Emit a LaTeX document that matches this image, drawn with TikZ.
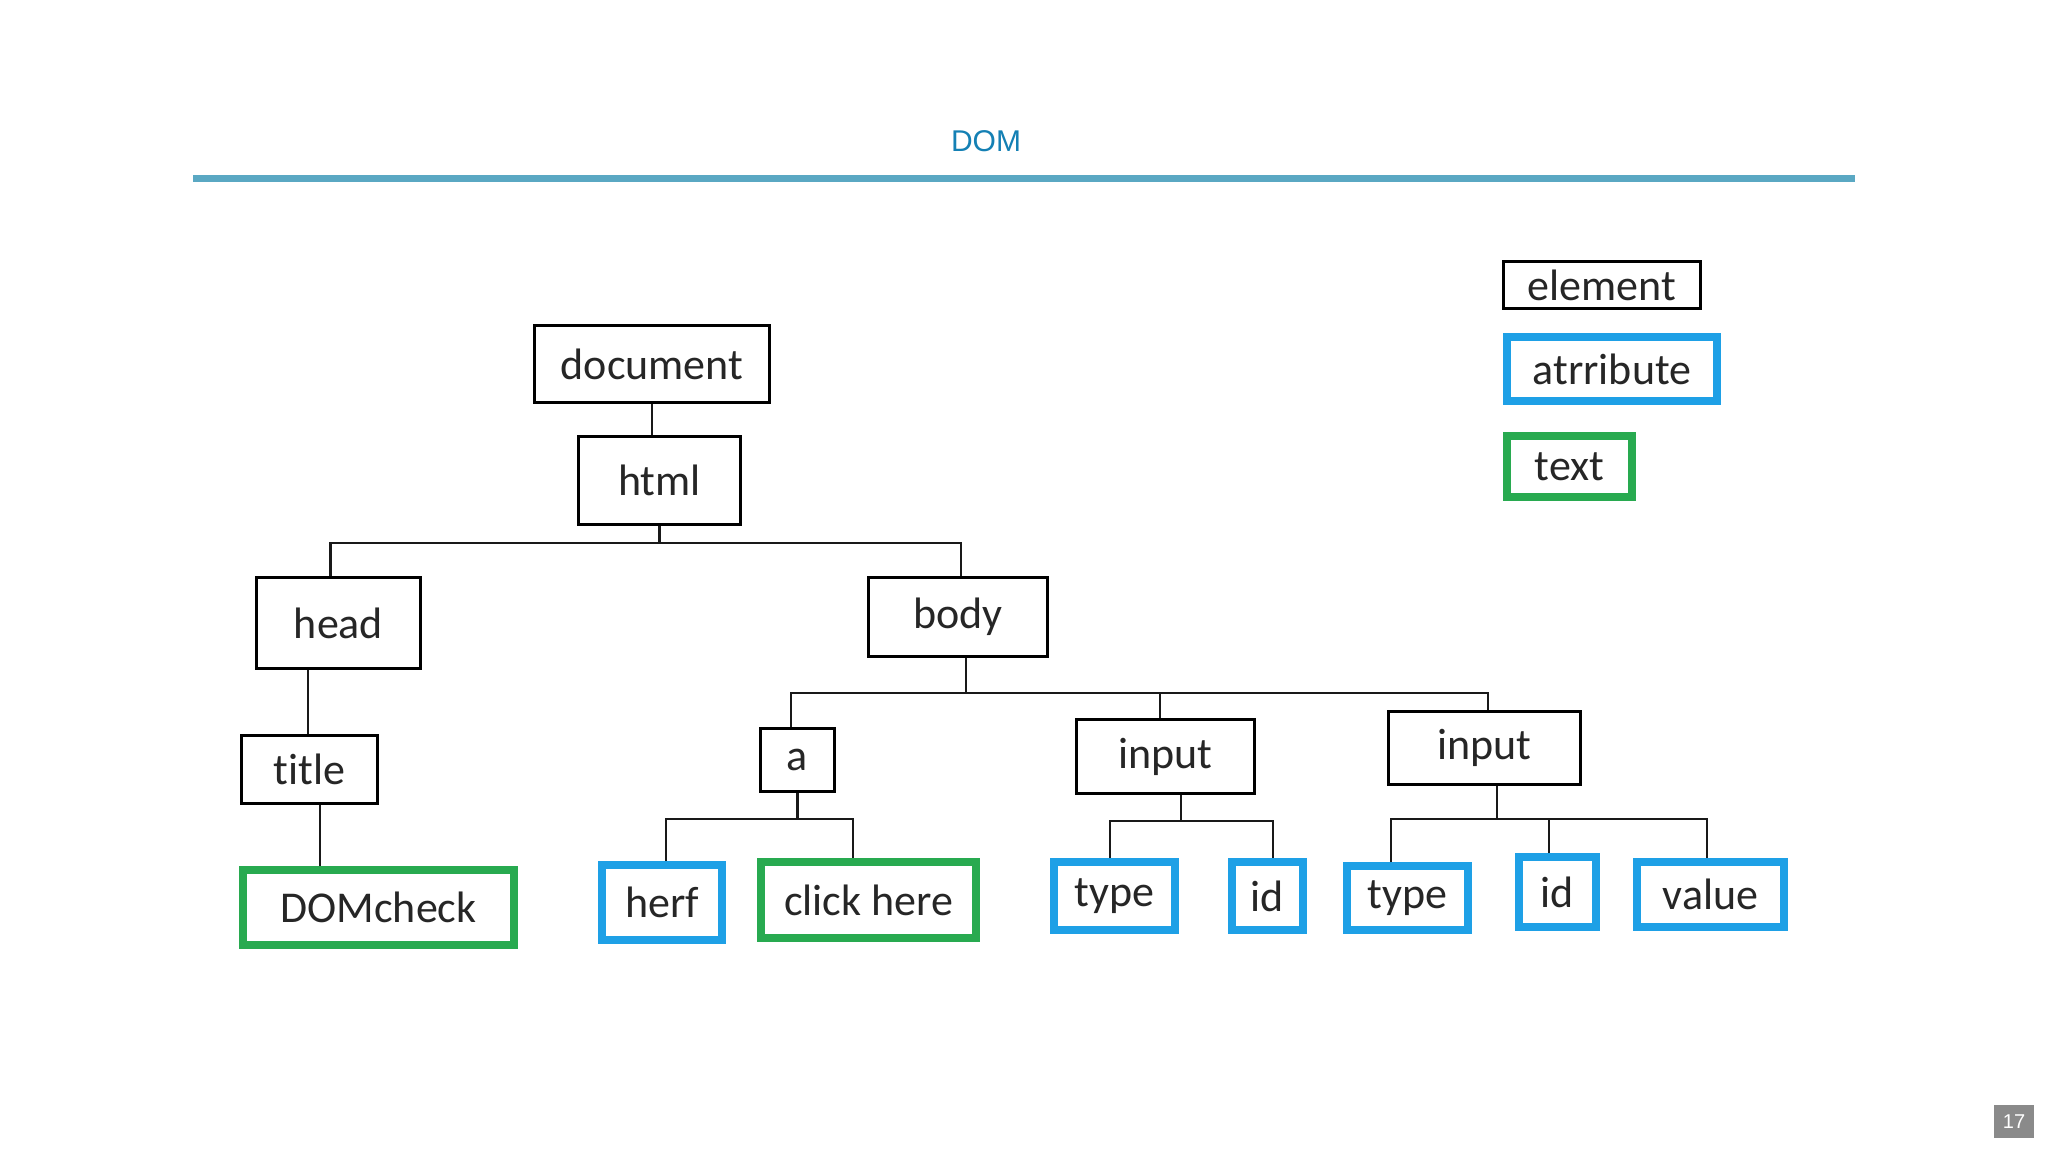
\documentclass[tikz,border=0pt]{standalone}
\usepackage{fontspec}
\setmainfont[Ligatures={NoCommon}]{Carlito}
\newfontfamily\titlefont{Liberation Sans}
\definecolor{titleblue}{RGB}{20,128,180}
\definecolor{rulecol}{RGB}{90,168,195}
\definecolor{attrblue}{RGB}{30,160,230}
\definecolor{textgreen}{RGB}{40,170,80}
\definecolor{pagegray}{RGB}{138,138,138}
\begin{document}
\begin{tikzpicture}[x=1pt,y=-1pt,
  box/.style={draw=black,line width=3pt,inner sep=0pt,font=\fontsize{44}{48}\selectfont,text=black!85},
  elem/.style={box},
  attr/.style={box,draw=attrblue,line width=8pt},
  txt/.style={box,draw=textgreen,line width=8pt},
  conn/.style={line width=2.8pt,black!90}]
\useasboundingbox (0,0) rectangle (2048,1152);
\fill[white] (0,0) rectangle (2048,1152);
% header
\node[font=\titlefont\fontsize{30}{34}\selectfont,text=titleblue] (ttl) at (986,141) {DOM};
\coordinate (rl) at (193,178);
\coordinate (rr) at (1855,178);
\draw[rulecol,line width=7pt] (rl) -- (rr);
% tree nodes
\node[elem,minimum width=235,minimum height=77] (document) at (652,364) {document};
\node[elem,minimum width=162,minimum height=88] (html) at (659.5,480.5) {html};
\node[elem,minimum width=164,minimum height=91] (head) at (338.5,623) {head};
\node[elem,minimum width=179,minimum height=79] (body) at (958,617) {body};
\node[elem,minimum width=136,minimum height=68] (title) at (309.5,769.5) {title};
\node[txt,minimum width=271,minimum height=75] (domcheck) at (378.5,907.5) {DOMcheck};
\node[elem,minimum width=74,minimum height=63] (a) at (797.5,760) {a};
\node[elem,minimum width=178,minimum height=74] (input1) at (1165.5,756.5) {input};
\node[elem,minimum width=192,minimum height=73] (input2) at (1484.5,748) {input};
\node[attr,minimum width=120,minimum height=75] (herf) at (662,902.5) {herf};
\node[txt,minimum width=215,minimum height=76] (click) at (868.5,900) {click here};
\node[attr,minimum width=121,minimum height=68] (type1) at (1114.5,896) {type};
\node[attr,minimum width=71,minimum height=68] (id1) at (1267.5,896) {id};
\node[attr,minimum width=121,minimum height=64] (type2) at (1407.5,898) {type};
\node[attr,minimum width=77,minimum height=70] (id2) at (1557.5,892) {id};
\node[attr,minimum width=147,minimum height=65] (value) at (1710.5,894.5) {value};
% legend
\node[elem,minimum width=197,minimum height=47] (lelem) at (1602,285) {element};
\node[attr,minimum width=210,minimum height=64] (lattr) at (1612,369) {atrribute};
\node[txt,minimum width=125,minimum height=61] (ltext) at (1569.5,466.5) {text};
% page number
\node[fill=pagegray,minimum width=40,minimum height=33,inner sep=0pt,text=white,font=\titlefont\fontsize{20}{22}\selectfont] (pnum) at (2014,1121.5) {17};
% connectors
\draw[conn] (document.south) -- (document.south |- html.north);
\draw[conn] (html.south) -- ++(0,17) coordinate (hb);
\draw[conn] ([xshift=-8]head.north) |- (hb) -| ([xshift=3]body.north);
\draw[conn] ([xshift=-1.5]title.north) -- ([xshift=-1.5]title.north |- head.south);
\draw[conn] ([xshift=10.5]title.south) -- ([xshift=10.5]title.south |- domcheck.north);
\draw[conn] ([xshift=8]body.south) -- ++(0,35) coordinate (bb);
\draw[conn] ([xshift=-6.5]a.north) |- (bb) -| ([xshift=3.5]input2.north);
\draw[conn] ([xshift=-5.5]input1.north) -- ([xshift=-5.5]input1.north |- bb);
\draw[conn] (a.south) -- ++(0,26) coordinate (ab);
\draw[conn] ([xshift=4]herf.north) |- (ab) -| ([xshift=-15.5]click.north);
\draw[conn] ([xshift=15.5]input1.south) -- ++(0,26) coordinate (ib1);
\draw[conn] ([xshift=-4.5]type1.north) |- (ib1) -| ([xshift=5.5]id1.north);
\draw[conn] ([xshift=12.5]input2.south) -- ++(0,33) coordinate (ib2);
\draw[conn] ([xshift=-16.5]type2.north) |- (ib2) -| ([xshift=-3.5]value.north);
\draw[conn] ([xshift=-8.5]id2.north) -- ([xshift=-8.5]id2.north |- ib2);
\end{tikzpicture}
\end{document}
